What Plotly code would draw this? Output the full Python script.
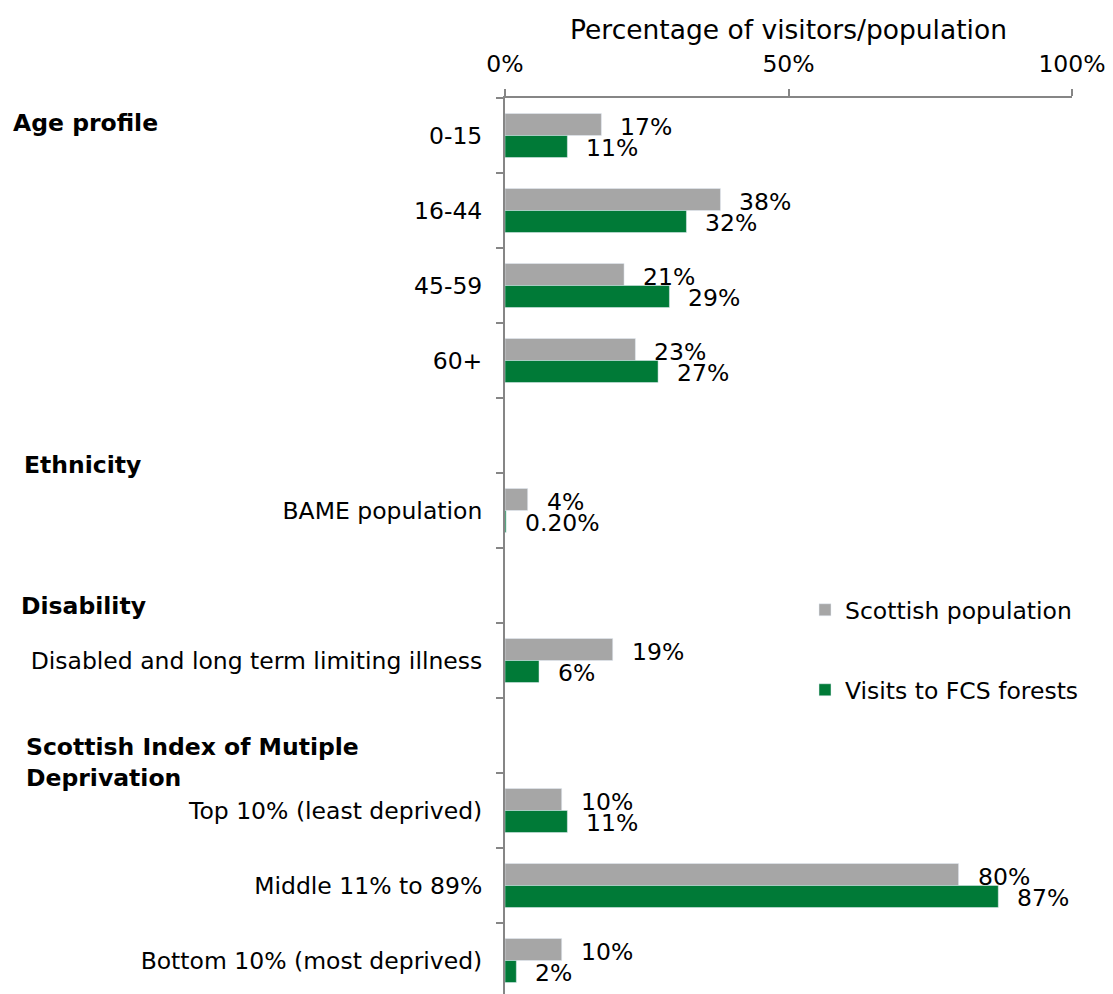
import plotly.graph_objects as go

categories = ["0-15", "16-44", "45-59", "60+", " ", "BAME population", "  ",
              "Disabled and long term limiting illness", "   ",
              "Top 10% (least deprived)", "Middle 11% to 89%", "Bottom 10% (most deprived)"]
scottish_population = [17, 38, 21, 23, None, 4, None, 19, None, 10, 80, 10]
visits_fcs = [11, 32, 29, 27, None, 0.2, None, 6, None, 11, 87, 2]
x_ticks = [0, 50, 100]
x_tick_labels = ["0%", "50%", "100%"]
sections = ["Age profile", "Ethnicity", "Disability", "Scottish Index of Mutiple<br>Deprivation"]

GRAY = "#A6A6A6"
GREEN = "#007A37"
AXIS = "#868686"
FONT = "DejaVu Sans"
FS = 23.5

W, H = 1113, 994
L, R, T, B = 505, 41, 98, 0
ROW = 75.0
plot_h = H - T - B


def fmt(v):
    return f"{v:.2f}%" if v < 1 else f"{v:.0f}%"


fig = go.Figure()
fig.add_trace(go.Bar(y=categories, x=scottish_population, orientation="h",
                     name="Scottish population", marker_color=GRAY,
                     legend="legend", showlegend=True))
fig.add_trace(go.Bar(y=categories, x=visits_fcs, orientation="h",
                     name="Visits to FCS forests", marker_color=GREEN,
                     legend="legend2", showlegend=True))

annotations = []
for series, shift in ((scottish_population, 9), (visits_fcs, -12)):
    for cat, v in zip(categories, series):
        if v is None:
            continue
        annotations.append(dict(x=v, y=cat, xref="x", yref="y", text=fmt(v),
                                showarrow=False, xanchor="left", yanchor="middle",
                                xshift=17, yshift=shift,
                                font=dict(family=FONT, size=FS, color="black")))

# section headers (pixel positions converted to paper coords)
header_pos = [(11, 123), (22, 465), (19, 606), (24, 762)]
for text, (px, py) in zip(sections, header_pos):
    annotations.append(dict(x=(px - L) / (W - L - R), y=1 - (py - T) / plot_h,
                            xref="paper", yref="paper", text=f"<b>{text}</b>",
                            showarrow=False, xanchor="left", yanchor="middle",
                            align="left",
                            font=dict(family=FONT, size=FS, color="black")))

fig.update_layout(
    width=W, height=H,
    margin=dict(l=L, r=R, t=T, b=B, pad=0),
    paper_bgcolor="white", plot_bgcolor="white",
    barmode="group", bargap=0.413, bargroupgap=0,
    showlegend=True,
    font=dict(family=FONT, size=FS, color="black"),
    annotations=annotations,
    legend=dict(x=(805 - L) / (W - L - R), y=1 - (610 - T) / plot_h,
                xanchor="left", yanchor="middle", bgcolor="rgba(0,0,0,0)",
                font=dict(family=FONT, size=FS, color="black")),
    legend2=dict(x=(805 - L) / (W - L - R), y=1 - (690 - T) / plot_h,
                 xanchor="left", yanchor="middle", bgcolor="rgba(0,0,0,0)",
                 font=dict(family=FONT, size=FS, color="black")),
    xaxis=dict(side="top", range=[0, 100], tickvals=x_ticks, ticktext=x_tick_labels,
               showgrid=False, zeroline=False, showline=True, linecolor=AXIS,
               linewidth=2, ticks="outside", ticklen=7, tickcolor=AXIS, tickwidth=2,
               ticklabelstandoff=8,
               title=dict(text="Percentage of visitors/population", standoff=2,
                          font=dict(family=FONT, size=26.5))),
    yaxis=dict(type="category", categoryorder="array", categoryarray=categories,
               range=[-0.5 + plot_h / ROW, -0.5], showgrid=False, zeroline=False,
               showline=True, linecolor=AXIS, linewidth=2, ticks="outside",
               tickson="boundaries", ticklen=7, tickcolor=AXIS, tickwidth=2,
               ticklabelstandoff=16),
)

fig.write_html("out.html", config={"displayModeBar": False},
               post_script="document.body.style.margin='0';document.body.style.padding='0';")
